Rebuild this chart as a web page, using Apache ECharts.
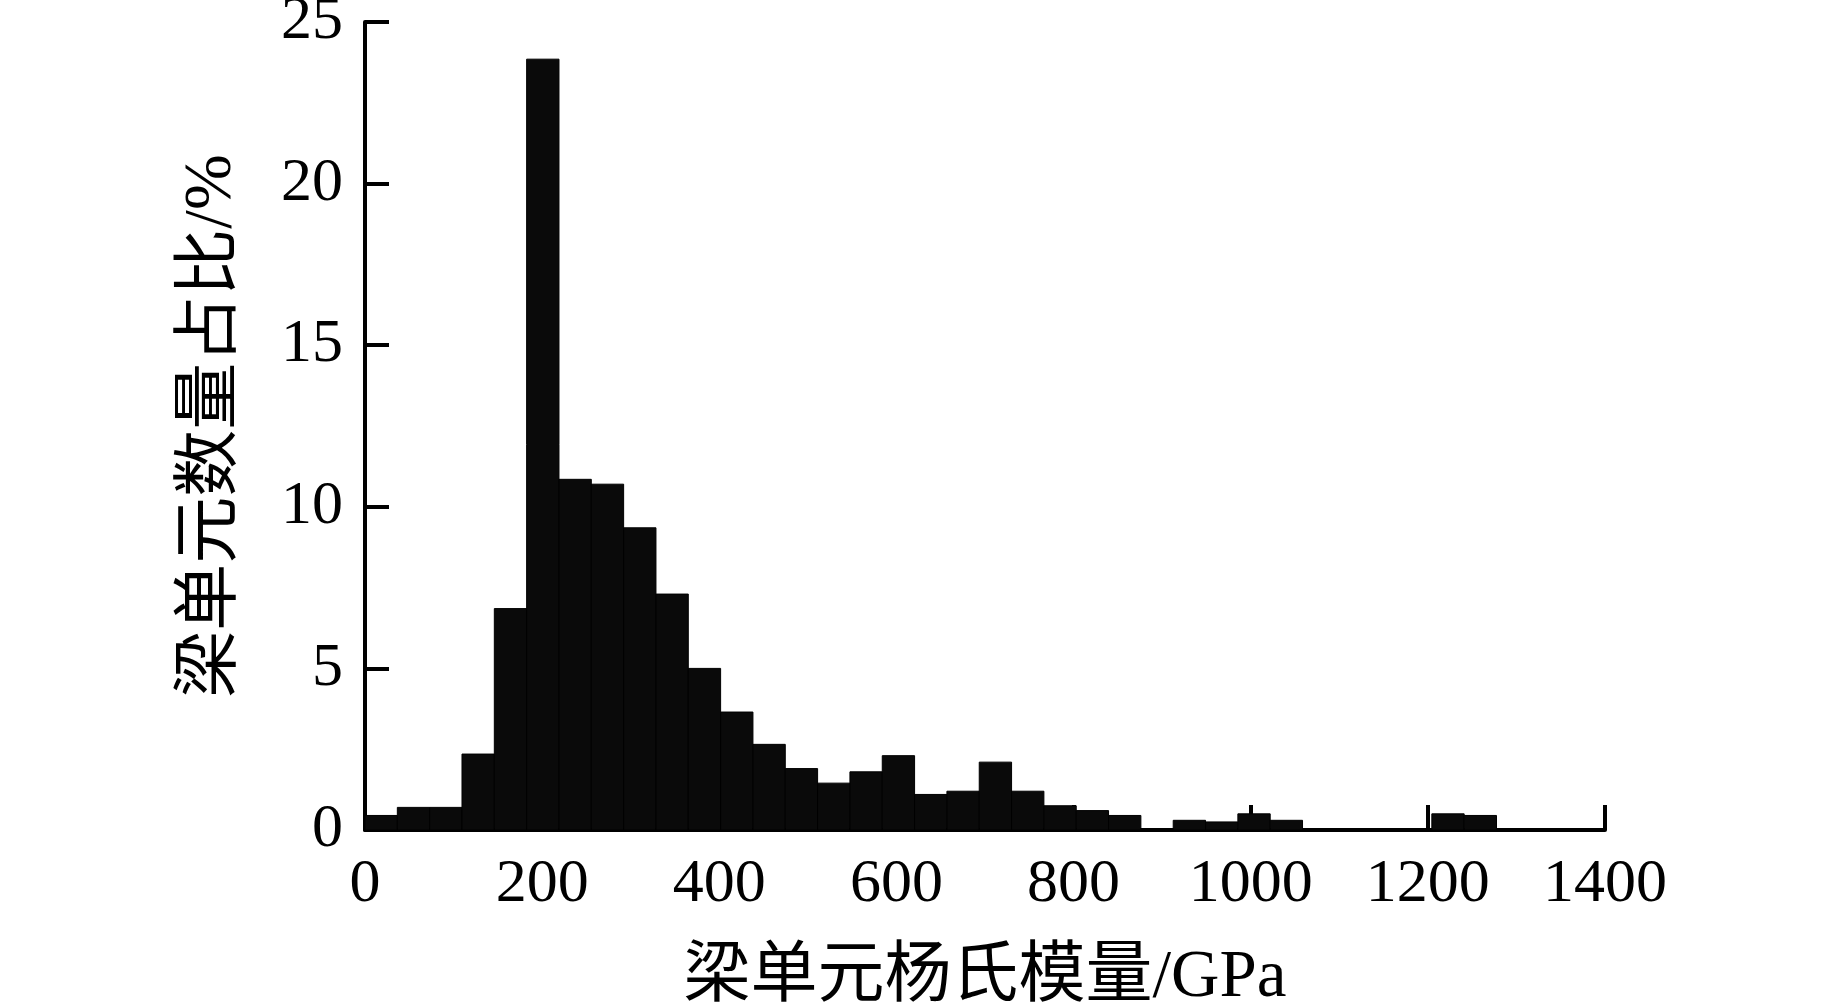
<!DOCTYPE html>
<html>
<head>
<meta charset="utf-8">
<title>梁单元杨氏模量分布</title>
<script src="https://cdn.jsdelivr.net/npm/echarts@6/dist/echarts.min.js"></script>
<style>
  html, body { margin: 0; padding: 0; background: #fff; }
  #chart { width: 1843px; height: 1005px; }
</style>
</head>
<body>
<div id="chart"></div>
<script>
// 直方图数据（每个区间的数量占比 %）
const binWidth = 36.5
const percents = [
  0.45, 0.7, 0.7, 2.35, 6.85, 23.85, 10.85, 10.7, 9.35, 7.3,
  5.0, 3.65, 2.65, 1.9, 1.45, 1.8, 2.3, 1.1, 1.2, 2.1,
  1.2, 0.75, 0.6, 0.45, 0, 0.3, 0.25, 0.5, 0.3, 0,
  0, 0, 0, 0.5, 0.45
]
const xTicks = [0, 200, 400, 600, 800, 1000, 1200, 1400]
const yTicks = [0, 5, 10, 15, 20, 25]

const xName = '梁单元杨氏模量/GPa'
const yName = '梁单元数量占比/%'

// 区间 [起点, 终点, 占比]
const bins = percents.map((v, i) => [i * binWidth, (i + 1) * binWidth, v])

const chart = echarts.init(document.getElementById('chart'))

const labelFont = {
  color: '#000',
  fontFamily: '"Liberation Serif", "Times New Roman", serif',
  fontSize: 62
}
const nameFont = {
  color: '#000',
  fontFamily: '"Liberation Serif", "Noto Sans CJK SC", serif',
  fontSize: 67
}

chart.setOption({
  animation: false,
  grid: {
    left: 365,
    right: 238,
    top: 22,
    bottom: 175,
    outerBoundsMode: 'none'
  },
  xAxis: {
    type: 'value',
    min: xTicks[0],
    max: xTicks[xTicks.length - 1],
    interval: 200,
    name: xName,
    nameLocation: 'middle',
    nameGap: 115,
    nameTextStyle: nameFont,
    splitLine: { show: false },
    axisLine: { lineStyle: { color: '#000', width: 4 } },
    axisTick: { inside: true, length: 25, lineStyle: { color: '#000', width: 4 } },
    axisLabel: { ...labelFont, margin: 24, formatter: v => String(v) }
  },
  yAxis: {
    type: 'value',
    min: yTicks[0],
    max: yTicks[yTicks.length - 1],
    interval: 5,
    name: yName,
    nameLocation: 'middle',
    nameGap: 119,
    nameTextStyle: nameFont,
    splitLine: { show: false },
    axisLine: { show: true, lineStyle: { color: '#000', width: 4 } },
    axisTick: { show: true, inside: true, length: 24, lineStyle: { color: '#000', width: 4 } },
    axisLabel: { ...labelFont, margin: 22 }
  },
  series: [
    {
      type: 'custom',
      data: bins,
      z: 1,
      renderItem: (params, api) => {
        const v = api.value(2)
        if (!v) return null
        const p0 = api.coord([api.value(0), v])
        const p1 = api.coord([api.value(1), 0])
        return {
          type: 'rect',
          shape: { x: p0[0], y: p0[1], width: p1[0] - p0[0], height: p1[1] - p0[1] },
          style: { fill: '#0a0a0a', stroke: '#000', lineWidth: 1 }
        }
      }
    }
  ]
})
</script>
</body>
</html>
